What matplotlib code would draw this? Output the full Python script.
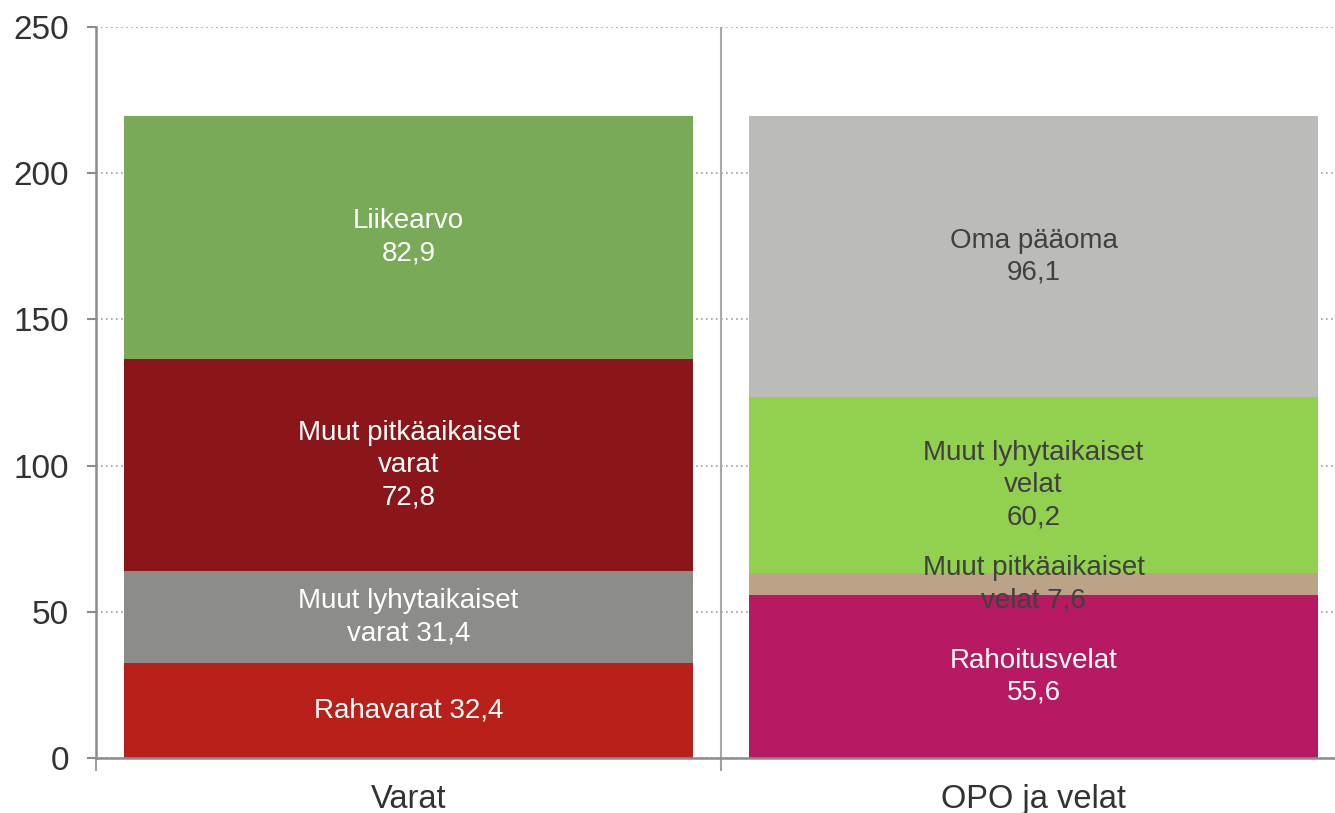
import numpy as np
import matplotlib.pyplot as plt

plt.rcParams['font.family'] = ['Liberation Sans', 'DejaVu Sans']

categories = ["Varat", "OPO ja velat"]

# segments bottom -> top for each column
varat_labels = ["Rahavarat 32,4", "Muut lyhytaikaiset\nvarat 31,4",
                "Muut pitkäaikaiset\nvarat\n72,8", "Liikearvo\n82,9"]
varat_values = [32.4, 31.4, 72.8, 82.9]
varat_colors = ["#B9201A", "#8C8D89", "#8B1619", "#78AA58"]
varat_text = ["white", "white", "white", "white"]

velat_labels = ["Rahoitusvelat\n55,6", "Muut pitkäaikaiset\nvelat 7,6",
                "Muut lyhytaikaiset\nvelat\n60,2", "Oma pääoma\n96,1"]
velat_values = [55.6, 7.6, 60.2, 96.1]
velat_colors = ["#B71A62", "#BCA388", "#92D050", "#BBBCB9"]
velat_text = ["white", "#404040", "#404040", "#404040"]

yticks = [0, 50, 100, 150, 200, 250]

fig = plt.figure(figsize=(13.35, 8.13), dpi=100)
ax = fig.add_axes([96 / 1335, 1 - 758 / 813, 1250 / 1335, 731 / 813])

columns = [(varat_values, varat_colors, varat_labels, varat_text),
           (velat_values, velat_colors, velat_labels, velat_text)]
for i, (vals, cols, labs, tcols) in enumerate(columns):
    bottom = 0
    for v, c, lab, tc in zip(vals, cols, labs, tcols):
        ax.bar(i, v, bottom=bottom, width=0.91, color=c, zorder=3)
        ax.text(i, bottom + v / 2, lab, ha='center', va='center', color=tc,
                fontsize=20, linespacing=1.3, zorder=4)
        bottom += v

ax.set_xlim(-0.5, 1.5)
ax.set_ylim(0, 250)
ax.set_yticks(yticks)
ax.set_xticks([0, 1])
ax.set_xticklabels(categories)
ax.set_xticks([-0.5, 0.5], minor=True)
ax.tick_params(axis='x', which='major', length=0, labelsize=23.5,
               labelcolor='#333333', pad=19)
ax.tick_params(axis='x', which='minor', length=9, width=1.5, color='#A0A0A0')
ax.tick_params(axis='y', length=6.5, width=1.5, color='#8C8C8C',
               labelsize=24, labelcolor='#333333', pad=13)

ax.grid(axis='y', linestyle=(0, (1, 2)), color='#A0A0A0', linewidth=1.2, zorder=0)
ax.axvline(0.5, color='#A8A8A8', linewidth=1.5, zorder=2)

for s in ['top', 'right']:
    ax.spines[s].set_visible(False)
ax.spines['left'].set_color('#8C8C8C')
ax.spines['left'].set_linewidth(1.8)
ax.spines['bottom'].set_color('#8C8C8C')
ax.spines['bottom'].set_linewidth(1.8)
ax.spines['bottom'].set_zorder(5)

fig.savefig('out.png', dpi=100)
